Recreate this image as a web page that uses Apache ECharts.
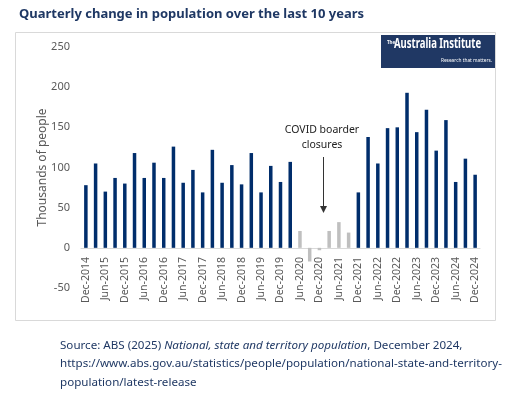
<!DOCTYPE html>
<html>
<head>
<meta charset="utf-8">
<script src="https://cdn.jsdelivr.net/npm/echarts@6/dist/echarts.min.js"></script>
<style>
  html, body { margin: 0; padding: 0; background: #fff; }
  #main { width: 527px; height: 397px; }
</style>
</head>
<body>
<div id="main"></div>
<script>
// 季度标签
var quarters = ['Dec-2014','Mar-2015','Jun-2015','Sep-2015','Dec-2015','Mar-2016','Jun-2016','Sep-2016',
  'Dec-2016','Mar-2017','Jun-2017','Sep-2017','Dec-2017','Mar-2018','Jun-2018','Sep-2018',
  'Dec-2018','Mar-2019','Jun-2019','Sep-2019','Dec-2019','Mar-2020','Jun-2020','Sep-2020',
  'Dec-2020','Mar-2021','Jun-2021','Sep-2021','Dec-2021','Mar-2022','Jun-2022','Sep-2022',
  'Dec-2022','Mar-2023','Jun-2023','Sep-2023','Dec-2023','Mar-2024','Jun-2024','Sep-2024','Dec-2024'];

// 人口变化（千人）
var popChange = [78, 105, 70, 87, 80, 118, 87, 106,
  87, 126, 81, 97, 69, 122, 81, 103,
  79, 118, 69, 102, 82, 107, 21, -17,
  -3, 21, 32, 19, 69, 138, 105, 149,
  150, 193, 144, 172, 121, 159, 82, 111, 91];

// 边境关闭期间
var covidQuarters = ['Jun-2020','Sep-2020','Dec-2020','Mar-2021','Jun-2021','Sep-2021'];

var yTicks = [-50, 0, 50, 100, 150, 200, 250];

var navy = '#002d6b';
var grey = '#bfbfbf';
var labelColor = '#595959';
var font = 'Noto Sans';

var myChart = echarts.init(document.getElementById('main'));

var option = {
  animation: false,
  backgroundColor: '#fff',
  title: {
    text: 'Quarterly change in population over the last 10 years',
    left: 14,
    top: 3,
    textStyle: { color: '#1f3864', fontSize: 13, fontWeight: 'bold', fontFamily: font }
  },
  grid: { left: 81, right: 47, top: 47, bottom: 109 },
  xAxis: {
    type: 'category',
    data: quarters,
    axisLine: { onZero: true, lineStyle: { color: '#d9d9d9', width: 1 } },
    axisTick: { show: false },
    axisLabel: {
      interval: 1,
      rotate: 90,
      margin: -31,   // 标签贴着0轴
      color: labelColor,
      fontSize: 10.5,
      fontFamily: font
    }
  },
  yAxis: {
    type: 'value',
    min: yTicks[0],
    max: yTicks[yTicks.length - 1],
    interval: 50,
    name: 'Thousands of people',
    nameLocation: 'middle',
    nameGap: 32,
    nameMoveOverlap: false,
    nameTextStyle: { color: labelColor, fontSize: 12, fontFamily: font },
    axisLine: { show: false },
    axisTick: { show: false },
    splitLine: { show: false },
    axisLabel: { color: labelColor, fontSize: 11, margin: 11, fontFamily: font }
  },
  series: [{
    type: 'bar',
    barWidth: 3.5,
    data: popChange.map(function (v, i) {
      return {
        value: v,
        itemStyle: { color: covidQuarters.indexOf(quarters[i]) >= 0 ? grey : navy }
      };
    })
  }],
  graphic: [
    // 外框
    { type: 'rect', shape: { x: 15.5, y: 32.5, width: 480, height: 288 },
      style: { fill: 'none', stroke: '#d9d9d9', lineWidth: 1 }, z: -1 },
    // logo
    { type: 'rect', shape: { x: 381, y: 35, width: 114, height: 33 }, style: { fill: '#203864' } },
    { type: 'text', x: 387, y: 39, scaleX: 0.75,
      style: { text: 'The', fill: '#fff', font: 'bold 6px "Noto Sans"' } },
    { type: 'text', x: 394, y: 37, scaleX: 0.68,
      style: { text: 'Australia Institute', fill: '#fff', font: 'bold 14px "Noto Sans"' } },
    { type: 'text', x: 492, y: 57, scaleX: 0.8,
      style: { text: 'Research that matters.', fill: '#fff', align: 'right', font: '6px "Noto Sans"' } },
    // 注释
    { type: 'text',
      style: { x: 322, y: 123, text: 'COVID boarder\nclosures', fill: '#222', align: 'center',
        font: '10.5px "Noto Sans"', lineHeight: 15 } },
    { type: 'line', shape: { x1: 323.5, y1: 157, x2: 323.5, y2: 207 },
      style: { stroke: '#333', lineWidth: 1 } },
    { type: 'polygon', shape: { points: [[320, 206], [327, 206], [323.5, 213]] },
      style: { fill: '#333' } },
    // 来源
    { type: 'text',
      style: {
        x: 60, y: 336,
        rich: {
          n: { fill: '#1f3864', font: '11.6px "Noto Sans"', lineHeight: 18.5 },
          i: { fill: '#1f3864', font: 'italic 11.6px "Noto Sans"', lineHeight: 18.5 }
        },
        text: '{n|Source: ABS (2025) }{i|National, state and territory population}{n|, December 2024,}\n' +
              '{n|https://www.abs.gov.au/statistics/people/population/national-state-and-territory-}\n' +
              '{n|population/latest-release}'
      } }
  ]
};

myChart.setOption(option);
</script>
</body>
</html>
